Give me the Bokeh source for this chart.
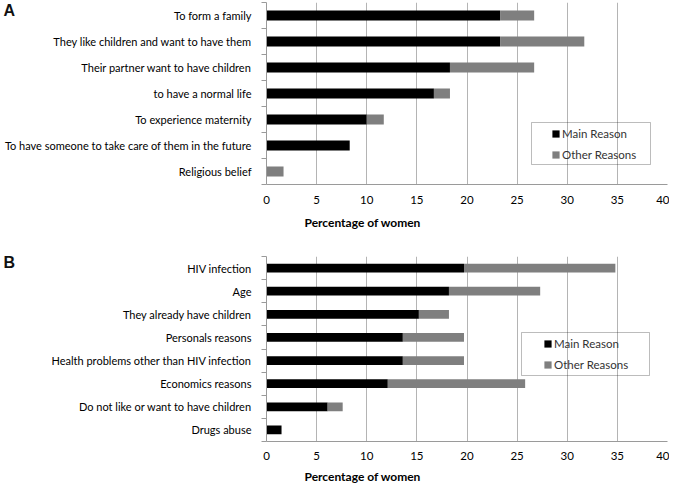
from bokeh.plotting import figure
from bokeh.models import (Range1d, FixedTicker, BoxAnnotation, ColumnDataSource, Title)
from bokeh.layouts import column
from bokeh.embed import file_html
from bokeh.resources import INLINE

# ---------------- data ----------------
cats_a = ["To form a family", "They like children and want to have them",
          "Their partner want to have children", "to have a normal life",
          "To experience maternity", "To have someone to take care of them in the future",
          "Religious belief"]
main_a = [23.3, 23.3, 18.3, 16.7, 10.0, 8.3, 0.0]
other_a = [3.4, 8.4, 8.4, 1.6, 1.7, 0.0, 1.7]

cats_b = ["HIV infection", "Age", "They already have children", "Personals reasons",
          "Health problems other than HIV infection", "Economics reasons",
          "Do not like or want to have children", "Drugs abuse"]
main_b = [19.7, 18.2, 15.2, 13.6, 13.6, 12.1, 6.1, 1.5]
other_b = [15.1, 9.1, 3.0, 6.1, 6.1, 13.7, 1.5, 0.0]

x_ticks = [0, 5, 10, 15, 20, 25, 30, 35, 40]
series_names = ["Main Reason", "Other Reasons"]
series_colors = ["#000000", "#7f7f7f"]
x_title = "Percentage of women"

FONT = "Lato"
TXT = "#000000"
GRID = "#b4b4b4"
AXIS = "#9a9a9a"
LEFT = 266


def make_panel(cats, main, other, height, top, frame_h, panel_letter, letter_standoff,
               tick_standoff, title_standoff, title_offset, leg_xy, box):
    n = len(cats)
    src = ColumnDataSource(dict(
        y=list(range(n)),
        main=main,
        total=[m + o for m, o in zip(main, other)],
    ))
    p = figure(width=669, height=height, output_backend="svg", toolbar_location=None,
               x_range=Range1d(0, 40), y_range=Range1d(n - 0.5, -0.5),
               min_border_left=LEFT, min_border_right=2,
               min_border_top=top, min_border_bottom=height - top - frame_h)
    p.outline_line_color = None
    p.background_fill_color = "white"
    p.border_fill_color = "white"

    p.hbar(y="y", left=0, right="main", height=0.38, source=src,
           fill_color=series_colors[0], line_color=None, legend_label=series_names[0])
    p.hbar(y="y", left="main", right="total", height=0.38, source=src,
           fill_color=series_colors[1], line_color=None, legend_label=series_names[1])

    xa = p.xaxis[0]
    xa.ticker = FixedTicker(ticks=x_ticks)
    xa.axis_line_color = AXIS
    xa.major_tick_out = 0
    xa.major_tick_in = 0
    xa.minor_tick_line_color = None
    xa.major_label_standoff = tick_standoff
    xa.major_label_text_font = FONT
    xa.major_label_text_font_size = "11.5px"
    xa.major_label_text_color = TXT

    ya = p.yaxis[0]
    ya.ticker = FixedTicker(ticks=list(range(n)), minor_ticks=[i - 0.5 for i in range(n + 1)])
    ya.major_label_overrides = {i: c for i, c in enumerate(cats)}
    ya.axis_line_color = AXIS
    ya.major_tick_line_color = None
    ya.major_tick_out = 0
    ya.major_tick_in = 0
    ya.minor_tick_out = 5
    ya.minor_tick_in = 0
    ya.minor_tick_line_color = AXIS
    ya.major_label_standoff = 10
    ya.major_label_text_font = FONT
    ya.major_label_text_font_size = "11px"
    ya.major_label_text_color = TXT

    p.xgrid.ticker = FixedTicker(ticks=x_ticks)
    p.xgrid.grid_line_color = GRID
    p.ygrid.grid_line_color = None

    p.add_layout(Title(text=x_title, align="left", offset=title_offset,
                       standoff=title_standoff, text_font=FONT, text_font_style="bold",
                       text_font_size="12px", text_color=TXT), "below")

    p.add_layout(Title(text=panel_letter, align="left", offset=-LEFT + 3,
                       standoff=letter_standoff, text_font="Liberation Sans",
                       text_font_style="bold", text_font_size="16px",
                       text_color="#111111"), "above")

    lg = p.legend[0]
    lg.location = leg_xy
    lg.orientation = "vertical"
    lg.border_line_alpha = 0
    lg.background_fill_alpha = 0
    lg.padding = 0
    lg.margin = 0
    lg.spacing = 7
    lg.glyph_width = 9
    lg.glyph_height = 9
    lg.label_height = 14
    lg.label_standoff = 2
    lg.label_text_font = FONT
    lg.label_text_font_size = "11.5px"
    lg.label_text_color = "#333333"

    l, r, t, b = box
    p.add_layout(BoxAnnotation(left=l, right=r, top=t, bottom=b,
                               left_units="screen", right_units="screen",
                               top_units="screen", bottom_units="screen",
                               fill_alpha=0, line_color="#222222", line_width=1))
    return p


pA = make_panel(cats_a, main_a, other_a, height=238, top=2, frame_h=182,
                panel_letter="A", letter_standoff=-33, tick_standoff=11, title_standoff=13,
                title_offset=38, leg_xy=(285, 23), box=(265, 384, 62, 20))
pB = make_panel(cats_b, main_b, other_b, height=250, top=18, frame_h=187,
                panel_letter="B", letter_standoff=-28, tick_standoff=10, title_standoff=9,
                title_offset=38, leg_xy=(277, 70), box=(255, 383, 109, 66))

layout = column(pA, pB)
open("out.html", "w").write(file_html(layout, INLINE))
